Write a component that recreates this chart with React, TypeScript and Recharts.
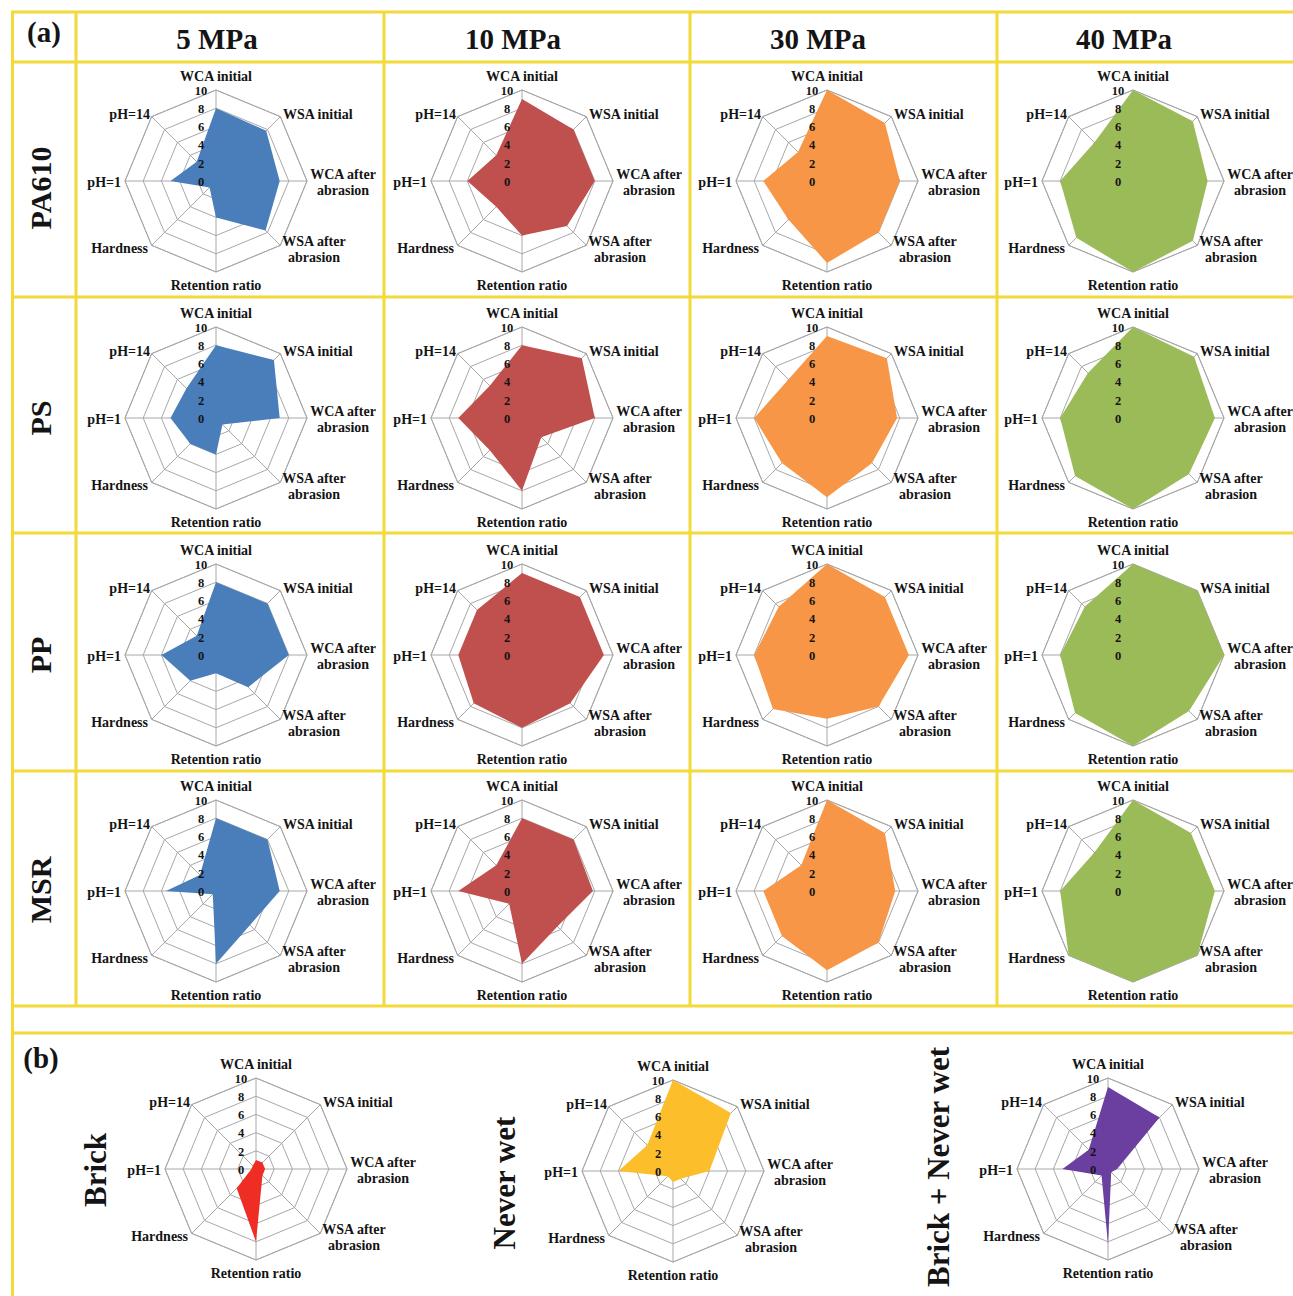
import React from 'react';
import { RadarChart, Radar, PolarGrid, PolarAngleAxis, PolarRadiusAxis } from 'recharts';

// ---------- data ----------
const axes = [
  'WCA initial',
  'WSA initial',
  'WCA after\nabrasion',
  'WSA after\nabrasion',
  'Retention ratio',
  'Hardness',
  'pH=1',
  'pH=14',
];
const pressures = ['5 MPa', '10 MPa', '30 MPa', '40 MPa'];
const materials = ['PA610', 'PS', 'PP', 'MSR'];
const bottomNames = ['Brick', 'Never wet', 'Brick + Never wet'];

const pa610_5 = [8, 7.8, 7, 7.7, 4, 1, 5, 3];
const pa610_10 = [9, 8, 8, 7, 6, 4, 6, 4];
const pa610_30 = [10, 9, 8, 8, 9, 6, 7, 4.5];
const pa610_40 = [10, 9.3, 8.2, 9.3, 10, 8.8, 8, 6];

const ps_5 = [8, 9, 7, 1, 4, 4, 5, 4.6];
const ps_10 = [8, 9.3, 8, 3, 8, 5, 7, 5];
const ps_30 = [9, 9.3, 7.7, 7, 8.7, 7, 8, 6];
const ps_40 = [10, 9.5, 9, 8.7, 10, 9, 8, 7];

const pp_5 = [8, 8, 8, 5, 2, 4, 6, 3];
const pp_10 = [9, 9, 9, 7.5, 8, 7.5, 7, 7];
const pp_30 = [10, 9, 9, 8, 7, 8.4, 8, 7.5];
const pp_40 = [10, 10, 10, 8.7, 10, 9, 8, 7.5];

const msr_5 = [8, 8, 7, 5.3, 8, 0.5, 5.5, 2.5];
const msr_10 = [8, 8, 7.8, 5.5, 8, 2, 7, 4];
const msr_30 = [10, 9, 7.5, 8, 8.7, 7, 7, 4];
const msr_40 = [10, 9, 9, 10, 10, 10, 8, 6];

const brick = [1, 1, 1, 1, 8, 3, 0.5, 0.5];
const neverWet = [10, 9, 4, 1.2, 1.2, 0.8, 6, 4];
const brickNeverWet = [9, 8, 1, 0.5, 8.3, 1, 5, 3];

// ---------- styles ----------
const FONT = '"Liberation Serif", "Times New Roman", Times, serif';
const TEXT = '#141414';
const GRID = '#A8A8A8';
const YELLOW = '#F2DA3A';
const colColors = ['#4A7EBB', '#C0504D', '#F79646', '#9BBB59'];
const bottomColors = ['#EE2D24', '#FDBE2C', '#6B3FA0'];

const CW = 320;
const CH = 240;
const CX = 145;
const CY = 120;
const R = 91;

const labelSpecs: { dx: number; dy: number; anchor: 'start' | 'middle' | 'end' }[] = [
  { dx: 0, dy: -105, anchor: 'middle' },
  { dx: 67, dy: -67, anchor: 'start' },
  { dx: 127, dy: -7, anchor: 'middle' },
  { dx: 98, dy: 60, anchor: 'middle' },
  { dx: 0, dy: 104, anchor: 'middle' },
  { dx: -68, dy: 67, anchor: 'end' },
  { dx: -95, dy: 1, anchor: 'end' },
  { dx: -66, dy: -67, anchor: 'end' },
];

function AngleTick(props: any) {
  const { payload } = props;
  const idx = axes.indexOf(payload.value);
  const spec = labelSpecs[idx] || labelSpecs[0];
  const lines = String(payload.value).split('\n');
  const x = CX + spec.dx;
  return (
    <text
      x={x}
      y={CY + spec.dy}
      textAnchor={spec.anchor}
      fontFamily={FONT}
      fontWeight="bold"
      fontSize={14}
      fill={TEXT}
    >
      {lines.map((l, i) => (
        <tspan key={i} x={x} dy={i === 0 ? '0.35em' : 16}>
          {l}
        </tspan>
      ))}
    </text>
  );
}

function RadiusTick(props: any) {
  const { payload, y } = props;
  return (
    <text
      x={CX - 15}
      y={y + 0.5}
      dy="0.35em"
      textAnchor="middle"
      fontFamily={FONT}
      fontWeight="bold"
      fontSize={12.5}
      fill={TEXT}
    >
      {payload.value}
    </text>
  );
}

function Spider({ values, color, cx, cy }: { values: number[]; color: string; cx: number; cy: number }) {
  const data = axes.map((a, i) => ({ axis: a, v: values[i] }));
  return (
    <div style={{ position: 'absolute', left: cx - CX, top: cy - CY, width: CW, height: CH }}>
      <RadarChart
        width={CW}
        height={CH}
        cx={CX}
        cy={CY}
        outerRadius={R}
        data={data}
        startAngle={90}
        endAngle={-270}
        margin={{ top: 0, right: 0, bottom: 0, left: 0 }}
      >
        <PolarGrid gridType="polygon" radialLines={false} stroke={GRID} strokeWidth={1} />
        <PolarAngleAxis
          dataKey="axis"
          tick={(p: any) => <AngleTick {...p} />}
          axisLine={false}
          tickLine={false}
        />
        <Radar dataKey="v" fill={color} fillOpacity={1} stroke="none" dot={false} isAnimationActive={false} />
        <PolarGrid gridType="polygon" polarRadius={[R]} radialLines stroke={GRID} strokeWidth={1} />
        <PolarRadiusAxis
          angle={90}
          domain={[0, 10]}
          tickCount={6}
          axisLine={false}
          tickLine={false}
          tick={(p: any) => <RadiusTick {...p} />}
        />
      </RadarChart>
    </div>
  );
}

export default function App() {
  const gridSets = [
    [pa610_5, pa610_10, pa610_30, pa610_40],
    [ps_5, ps_10, ps_30, ps_40],
    [pp_5, pp_10, pp_30, pp_40],
    [msr_5, msr_10, msr_30, msr_40],
  ];
  const colX = [215.5, 521.7, 826.7, 1132.7];
  const rowY = [181, 418, 654.5, 891];
  const rowLabelY = [188, 418, 655, 890];
  const headerX = [217, 513, 818, 1124];
  const hLines = [12, 62, 297, 533, 771, 1006, 1033];
  const vLines = [76, 384, 690, 997];
  const bottomSets = [brick, neverWet, brickNeverWet];
  const bottomCenters = [
    [255.7, 1169.3],
    [673.3, 1171],
    [1107.7, 1169.3],
  ];
  const bottomLabelPos = [
    [95, 1170],
    [504, 1183],
    [938, 1167],
  ];

  return (
    <div
      style={{
        position: 'absolute',
        left: 0,
        top: 0,
        width: 1293,
        height: 1296,
        overflow: 'hidden',
        background: '#fff',
      }}
    >
      <svg width={1293} height={1296} style={{ position: 'absolute', left: 0, top: 0 }}>
        {hLines.map((y, i) => (
          <rect key={'h' + i} x={11} y={y - 1.5} width={1293} height={3} fill={YELLOW} />
        ))}
        <rect x={11} y={11} width={3} height={1296} fill={YELLOW} />
        {vLines.map((x, i) => (
          <rect key={'v' + i} x={x - 1.5} y={11} width={3} height={1006 - 11} fill={YELLOW} />
        ))}
        <text x={44} y={42} textAnchor="middle" fontFamily={FONT} fontWeight="bold" fontSize={29} fill={TEXT}>
          (a)
        </text>
        {pressures.map((p, i) => (
          <text
            key={p}
            x={headerX[i]}
            y={49}
            textAnchor="middle"
            fontFamily={FONT}
            fontWeight="bold"
            fontSize={29}
            fill={TEXT}
          >
            {p}
          </text>
        ))}
        {materials.map((m, i) => (
          <text
            key={m}
            transform={`translate(40,${rowLabelY[i]}) rotate(-90)`}
            textAnchor="middle"
            dy="0.35em"
            fontFamily={FONT}
            fontWeight="bold"
            fontSize={30}
            fill={TEXT}
          >
            {m}
          </text>
        ))}
        <text x={41} y={1068} textAnchor="middle" fontFamily={FONT} fontWeight="bold" fontSize={29} fill={TEXT}>
          (b)
        </text>
        {bottomNames.map((n, i) => (
          <text
            key={n}
            transform={`translate(${bottomLabelPos[i][0]},${bottomLabelPos[i][1]}) rotate(-90)`}
            textAnchor="middle"
            dy="0.35em"
            fontFamily={FONT}
            fontWeight="bold"
            fontSize={31}
            fill={TEXT}
          >
            {n}
          </text>
        ))}
      </svg>
      {gridSets.map((row, r) =>
        row.map((vals, c) => (
          <Spider key={`${r}-${c}`} values={vals} color={colColors[c]} cx={colX[c]} cy={rowY[r]} />
        ))
      )}
      {bottomSets.map((vals, i) => (
        <Spider
          key={'b' + i}
          values={vals}
          color={bottomColors[i]}
          cx={bottomCenters[i][0]}
          cy={bottomCenters[i][1]}
        />
      ))}
    </div>
  );
}
